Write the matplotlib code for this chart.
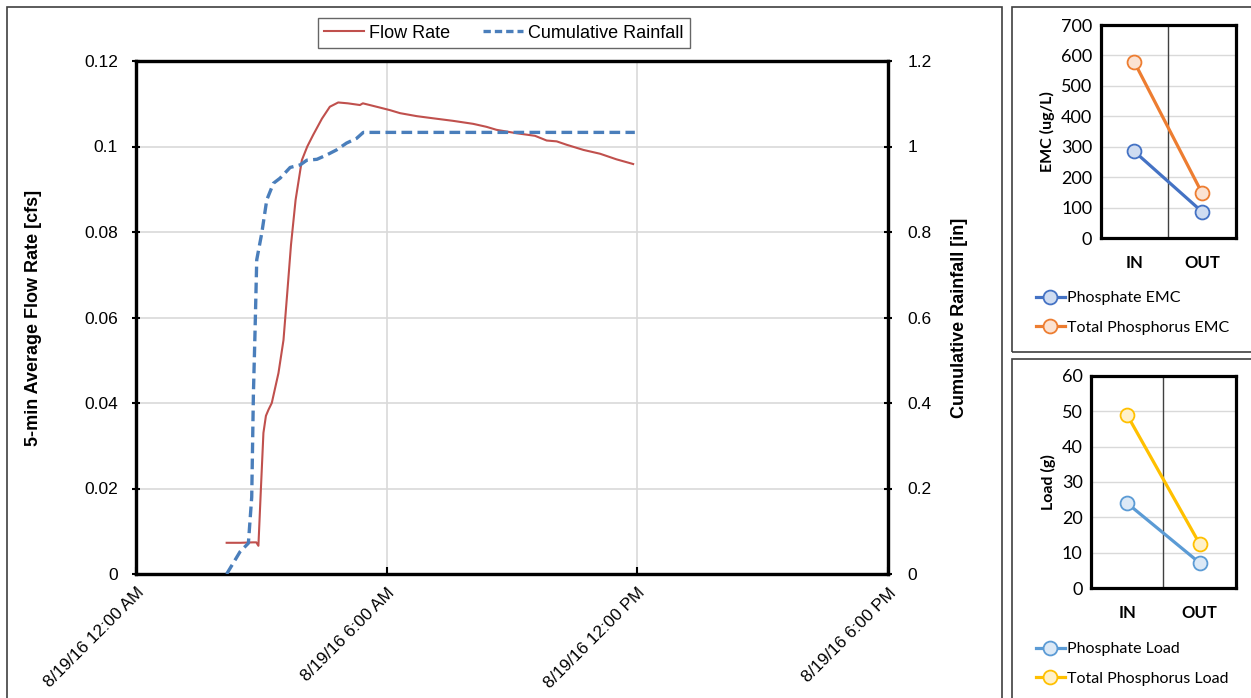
import matplotlib
matplotlib.use("Agg")
import matplotlib.pyplot as plt
from matplotlib.patches import Rectangle
from matplotlib.lines import Line2D

# ---- storm event time series (hours after 8/19/16 12:00 AM) ----
flow_hours = [2.17, 2.50, 2.80, 2.88, 2.93, 2.99, 3.05, 3.11, 3.17, 3.25, 3.41,
              3.53, 3.62, 3.71, 3.82, 3.97, 4.10, 4.24, 4.45, 4.64, 4.84, 5.07,
              5.36, 5.43, 5.84, 6.08, 6.32, 6.72, 7.11, 7.59, 8.07, 8.39, 8.63,
              9.11, 9.55, 9.83, 10.07, 10.31, 10.71, 11.11, 11.50, 11.90]
flow_cfs = [0.0073, 0.0073, 0.0074, 0.0074, 0.0066, 0.0200, 0.0330, 0.0370,
            0.0384, 0.0400, 0.0470, 0.0547, 0.0657, 0.0770, 0.0875, 0.0968,
            0.1000, 0.1027, 0.1065, 0.1093, 0.1103, 0.1101, 0.1097, 0.1101,
            0.1091, 0.1085, 0.1078, 0.1071, 0.1066, 0.1060, 0.1053, 0.1046,
            0.1039, 0.1031, 0.1025, 0.1014, 0.1012, 0.1004, 0.0992, 0.0983,
            0.0970, 0.0959]

rain_hours = [2.17, 2.33, 2.49, 2.69, 2.77, 2.81, 2.85, 2.89, 3.01, 3.13, 3.29,
              3.45, 3.69, 3.93, 4.09, 4.33, 4.56, 4.80, 5.04, 5.28, 5.44, 11.94]
rain_in = [0.0, 0.026, 0.052, 0.072, 0.18, 0.42, 0.57, 0.735, 0.797, 0.875,
           0.914, 0.926, 0.951, 0.957, 0.968, 0.970, 0.980, 0.992, 1.008,
           1.019, 1.033, 1.033]

time_ticks = [0, 6, 12, 18]
time_labels = ["8/19/16 12:00 AM", "8/19/16 6:00 AM",
               "8/19/16 12:00 PM", "8/19/16 6:00 PM"]
flow_ticks = [0, 0.02, 0.04, 0.06, 0.08, 0.1, 0.12]
flow_labels = ["0", "0.02", "0.04", "0.06", "0.08", "0.1", "0.12"]
rain_ticks = [0, 0.2, 0.4, 0.6, 0.8, 1.0, 1.2]
rain_labels = ["0", "0.2", "0.4", "0.6", "0.8", "1", "1.2"]

# ---- inflow / outflow phosphorus summaries ----
stations = ["IN", "OUT"]
phosphate_emc = [285, 87]
total_p_emc = [578, 148]
phosphate_load = [24.0, 7.2]
total_p_load = [48.9, 12.6]

W, H = 1251, 698
fig = plt.figure(figsize=(W / 100, H / 100), dpi=100)


def fx(px):
    return px / W


def fy(py):
    return 1 - py / H


# panel frames
for (x0, y0, x1, y1) in [(6.5, 7, 1001.5, 705), (1011.5, 7, 1260, 352),
                         (1011.5, 359, 1260, 705)]:
    fig.patches.append(Rectangle((fx(x0), fy(y1)), fx(x1 - x0), (y1 - y0) / H,
                                 transform=fig.transFigure, fill=False,
                                 edgecolor="#404040", linewidth=1.2, zorder=0))

MAIN_FONT = "Liberation Sans"
SIDE_FONT = "Lato"

# ---------------- main hydrograph ----------------
ax = fig.add_axes([fx(136), fy(574), fx(888 - 136), (574 - 61) / H])
ax2 = ax.twinx()

ax.plot(flow_hours, flow_cfs, color="#C0504D", lw=1.5, zorder=3)
ax2.plot(rain_hours, rain_in, color="#4A7EBB", lw=2.4,
         linestyle=(0, (3.2, 1.6)), zorder=3)

ax.set_xlim(0, 18)
ax.set_ylim(0, 0.12)
ax2.set_ylim(0, 1.2)
ax.set_xticks(time_ticks)
ax.set_xticklabels(time_labels, rotation=45, ha="right", va="top",
                   rotation_mode="anchor", family=MAIN_FONT, fontsize=12.3)
ax.set_yticks(flow_ticks)
ax.set_yticklabels(flow_labels, family=MAIN_FONT, fontsize=12.5)
ax2.set_yticks(rain_ticks)
ax2.set_yticklabels(rain_labels, family=MAIN_FONT, fontsize=12.5)

ax.grid(True, color="#D9D9D9", lw=1.2, zorder=0)
ax.set_axisbelow(True)
ax.tick_params(axis="x", direction="in", length=5, width=1.5, pad=8)
ax.tick_params(axis="y", direction="inout", length=6, width=1.5, pad=10)
ax2.tick_params(axis="y", direction="inout", length=6, width=1.5, pad=11)
for a in (ax, ax2):
    for s in a.spines.values():
        s.set_linewidth(2.3)
        s.set_color("black")

ax.set_ylabel("5-min Average Flow Rate [cfs]", family=MAIN_FONT,
              fontsize=13, fontweight="bold", labelpad=30)
ax2.set_ylabel("Cumulative Rainfall [in]", family=MAIN_FONT,
               fontsize=13, fontweight="bold", labelpad=14)

main_handles = [Line2D([], [], color="#C0504D", lw=1.5),
                Line2D([], [], color="#4A7EBB", lw=2.4,
                       linestyle=(0, (2.2, 1.2)))]
leg = fig.legend(main_handles, ["Flow Rate", "Cumulative Rainfall"],
                 loc="center", bbox_to_anchor=(fx(504), fy(33)), ncol=2,
                 prop={"family": MAIN_FONT, "size": 13}, frameon=True,
                 fancybox=False, edgecolor="#404040", handlelength=2.2,
                 handletextpad=0.3, columnspacing=1.8, borderpad=0.35,
                 borderaxespad=0)
leg.get_frame().set_linewidth(1.0)


# ---------------- side panels ----------------
def side_panel(rect, ymax, ystep, series, ylabel, leg_y):
    a = fig.add_axes(rect)
    xs = list(range(len(stations)))
    handles = []
    for vals, line_c, face_c, name in series:
        h, = a.plot(xs, vals, color=line_c, lw=2.3, marker="o", ms=10,
                    mfc=face_c, mec=line_c, mew=1.3, zorder=3,
                    clip_on=False)
        handles.append((h, name))
    a.set_xlim(-0.5, 1.5)
    a.set_ylim(0, ymax)
    a.axvline(0.5, color="#404040", lw=1.0, zorder=1)
    a.set_yticks(range(0, ymax + 1, ystep))
    a.set_yticklabels([str(v) for v in range(0, ymax + 1, ystep)],
                      family=SIDE_FONT, fontsize=13)
    a.set_xticks(xs)
    a.set_xticklabels(stations, family=SIDE_FONT, fontsize=12,
                      fontweight="bold")
    a.grid(True, axis="y", color="#D9D9D9", lw=1.0, zorder=0)
    a.set_axisbelow(True)
    a.tick_params(axis="y", length=0, pad=6)
    a.tick_params(axis="x", length=0, pad=12)
    for s in a.spines.values():
        s.set_linewidth(2.3)
        s.set_color("black")
    a.set_ylabel(ylabel, family=SIDE_FONT, fontsize=11.5, fontweight="bold",
                 labelpad=4)
    fig.legend([h for h, _ in handles], [n for _, n in handles],
               loc="center left", bbox_to_anchor=(fx(1036), fy(leg_y)),
               prop={"family": SIDE_FONT, "size": 11.5}, frameon=False,
               handlelength=1.8, handletextpad=0.15, labelspacing=0.95,
               borderpad=0, borderaxespad=0)
    return a


side_panel([fx(1100.5), fy(238.3), fx(135.5), (238.3 - 25) / H], 700, 100,
           [(phosphate_emc, "#4472C4", "#CFDCF1", "Phosphate EMC"),
            (total_p_emc, "#ED7D31", "#FBE2D2", "Total Phosphorus EMC")],
           "EMC (ug/L)", 313)

side_panel([fx(1091), fy(588.3), fx(144.7), (588.3 - 375.7) / H], 60, 10,
           [(phosphate_load, "#5B9BD5", "#DCE9F6", "Phosphate Load"),
            (total_p_load, "#FFC000", "#FFF1C9", "Total Phosphorus Load")],
           "Load (g)", 664)

fig.savefig("out.png", dpi=100)
